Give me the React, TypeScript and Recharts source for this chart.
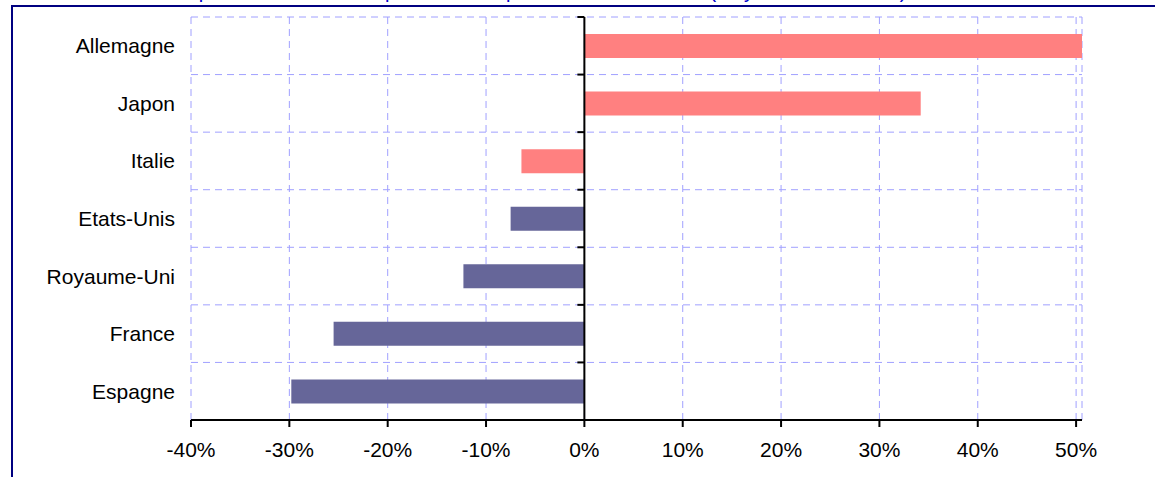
import { Bar, BarChart, CartesianGrid, Cell, ReferenceLine, XAxis, YAxis } from "recharts";

const COUNTRIES = ["Allemagne", "Japon", "Italie", "Etats-Unis", "Royaume-Uni", "France", "Espagne"];
const VALUES = [50.6, 34.2, -6.4, -7.5, -12.3, -25.5, -29.8];
const X_TICKS = [-40, -30, -20, -10, 0, 10, 20, 30, 40, 50];
const BAR_COLORS = ["#FF8080", "#FF8080", "#FF8080", "#666699", "#666699", "#666699", "#666699"];

const data = COUNTRIES.map((name, i) => ({ name, value: VALUES[i] }));

const FONT = "'Liberation Sans', Arial, sans-serif";

// zero line with small category ticks on its left side
function ZeroAxis(props: any) {
  const x = props.x1 ?? props.x;
  const top = Math.min(props.y1, props.y2);
  const bottom = Math.max(props.y1, props.y2);
  const band = (bottom - top) / COUNTRIES.length;
  const ticks = [];
  for (let i = 0; i < COUNTRIES.length; i++) {
    const y = top + i * band;
    ticks.push(<line key={i} x1={x - 7} x2={x} y1={y} y2={y} stroke="#000" strokeWidth={2} />);
  }
  return (
    <g>
      {ticks}
      <line x1={x} x2={x} y1={top} y2={bottom} stroke="#000" strokeWidth={2} />
    </g>
  );
}

export default function App() {
  return (
    <div
      style={{
        position: "absolute",
        left: 0,
        top: 0,
        width: 1155,
        height: 477,
        overflow: "hidden",
        background: "#fff",
        fontFamily: FONT,
      }}
    >
      <div
        style={{
          position: "absolute",
          left: 62,
          top: -19,
          fontSize: 20,
          lineHeight: "20px",
          color: "#0000CC",
          whiteSpace: "nowrap",
        }}
      >
        Evolution de la part de marché à l'exportation des produits manufacturés (moyenne 1990-1995)
      </div>
      <div
        style={{
          position: "absolute",
          left: 11,
          top: 5,
          width: 1200,
          height: 600,
          borderTop: "2px solid #000080",
          borderLeft: "2px solid #000080",
        }}
      />
      <div style={{ position: "absolute", left: 0, top: 0 }}>
        <BarChart
          width={1155}
          height={477}
          data={data}
          layout="vertical"
          margin={{ top: 17, right: 73, bottom: 17, left: 0 }}
        >
          <CartesianGrid
            stroke="#A0A0FF"
            strokeDasharray="7 5"
            horizontalCoordinatesGenerator={({ offset }: any) =>
              COUNTRIES.map((_, i) => offset.top + (i * offset.height) / COUNTRIES.length)
            }
          />
          <XAxis
            type="number"
            domain={[-40, "dataMax"]}
            ticks={X_TICKS}
            tickFormatter={(v: number) => `${v}%`}
            tick={{ fill: "#000", fontSize: 21, fontFamily: FONT }}
            axisLine={{ stroke: "#000", strokeWidth: 2 }}
            tickLine={{ stroke: "#000", strokeWidth: 2 }}
            tickSize={7}
            tickMargin={15}
            height={40}
          />
          <YAxis
            type="category"
            dataKey="name"
            width={191}
            axisLine={false}
            tickLine={false}
            tickSize={0}
            tickMargin={16}
            tick={{ fill: "#000", fontSize: 21, fontFamily: FONT }}
          />
          <Bar dataKey="value" barSize={24} isAnimationActive={false}>
            {data.map((_, i) => (
              <Cell key={`cell-${i}`} fill={BAR_COLORS[i]} />
            ))}
          </Bar>
          <ReferenceLine x={0} stroke="#000" strokeWidth={2} shape={ZeroAxis} />
        </BarChart>
      </div>
    </div>
  );
}
